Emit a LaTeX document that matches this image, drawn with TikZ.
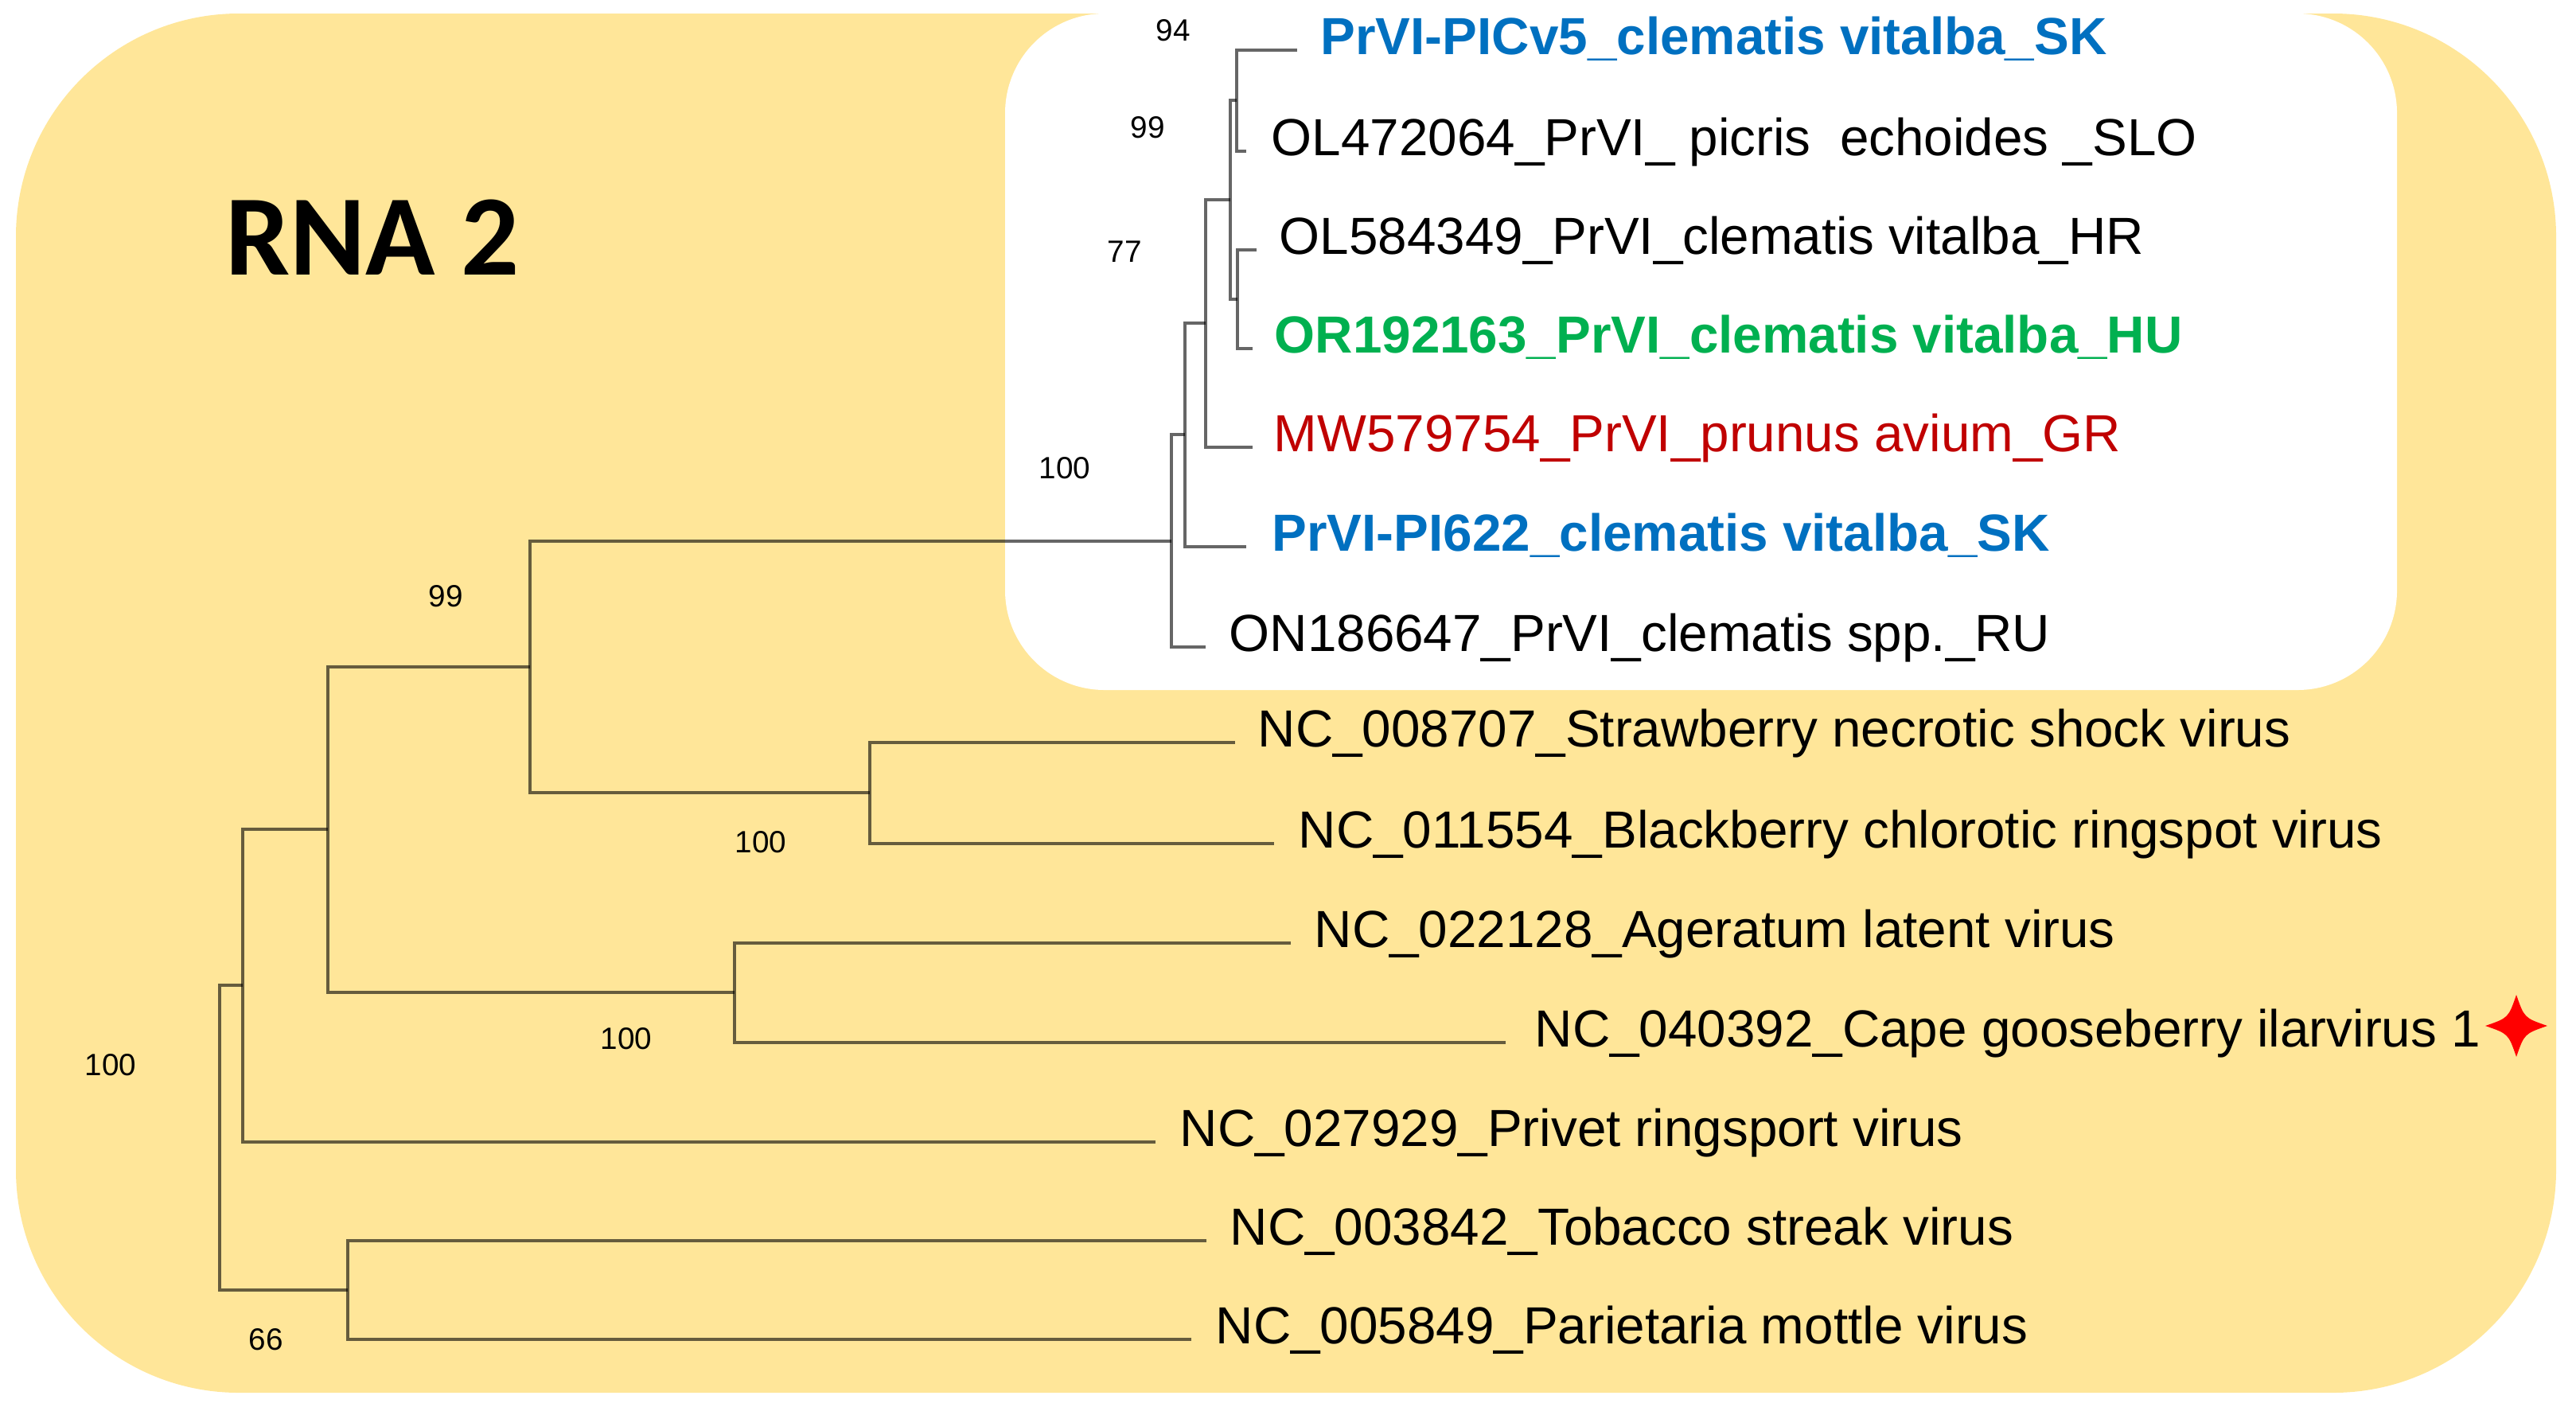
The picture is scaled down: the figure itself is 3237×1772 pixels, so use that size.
\documentclass[tikz,border=0pt]{standalone}
\usepackage{fontspec}
\setmainfont{Liberation Sans}
\newfontfamily\titlefont{Carlito}
\definecolor{rnaback}{HTML}{FFE699}
\definecolor{skblue}{HTML}{0070C0}
\definecolor{hugreen}{HTML}{00B050}
\definecolor{grred}{HTML}{C00000}

\begin{document}
\begin{tikzpicture}[x=0.01cm, y=-0.01cm,
    branch/.style={draw=black, draw opacity=0.6, line width=1.1pt},
    taxon/.style={anchor=base west, inner sep=0pt, font=\fontsize{18.65}{22}\selectfont},
    ourtaxon/.style={taxon, font=\fontsize{18.65}{22}\selectfont\bfseries},
    boot/.style={inner sep=0pt, font=\fontsize{11}{13}\selectfont}]
  \useasboundingbox (0,0) rectangle (3237,1772);
  \fill[rnaback, rounded corners=2.8cm] (20,17) rectangle (3212,1750);
  \fill[white, rounded corners=1.25cm] (1263,17) rectangle (3012,867);
  \node[anchor=base west, inner sep=0pt, font=\titlefont\bfseries\fontsize{41}{48}\selectfont] (title) at (283,345) {RNA 2};

  % inner nodes of the tree
  \coordinate (i1) at (1554,126);
  \coordinate (i2) at (1555,376);
  \coordinate (i3) at (1546,251);
  \coordinate (i4) at (1515,406);
  \coordinate (i5) at (1489,546);
  \coordinate (i6) at (1472,680);
  \coordinate (i7) at (1093,996);
  \coordinate (i8) at (666,838);
  \coordinate (i9) at (923,1247);
  \coordinate (i10) at (412,1042);
  \coordinate (i11) at (305,1238);
  \coordinate (i12) at (437,1621);
  \coordinate (i13) at (276,1430);

  % tips
  \coordinate (t1) at (1630,63);
  \coordinate (t2) at (1566,190);
  \coordinate (t3) at (1579,314);
  \coordinate (t4) at (1574,438);
  \coordinate (t5) at (1574,562);
  \coordinate (t6) at (1566,687);
  \coordinate (t7) at (1515,813);
  \coordinate (t8) at (1552,933);
  \coordinate (t9) at (1601,1060);
  \coordinate (t10) at (1622,1185);
  \coordinate (t11) at (1892,1310);
  \coordinate (t12) at (1452,1435);
  \coordinate (t13) at (1516,1559);
  \coordinate (t14) at (1497,1683);

  \draw[branch] (i13) |- (i11);
  \draw[branch] (i13) |- (i12);
  \draw[branch] (i11) |- (i10);
  \draw[branch] (i11) |- (t12);
  \draw[branch] (i10) |- (i8);
  \draw[branch] (i10) |- (i9);
  \draw[branch] (i8) |- (i6);
  \draw[branch] (i8) |- (i7);
  \draw[branch] (i6) |- (i5);
  \draw[branch] (i6) |- (t7);
  \draw[branch] (i5) |- (i4);
  \draw[branch] (i5) |- (t6);
  \draw[branch] (i4) |- (i3);
  \draw[branch] (i4) |- (t5);
  \draw[branch] (i3) |- (i1);
  \draw[branch] (i3) |- (i2);
  \draw[branch] (i1) |- (t1);
  \draw[branch] (i1) |- (t2);
  \draw[branch] (i2) |- (t3);
  \draw[branch] (i2) |- (t4);
  \draw[branch] (i7) |- (t8);
  \draw[branch] (i7) |- (t9);
  \draw[branch] (i9) |- (t10);
  \draw[branch] (i9) |- (t11);
  \draw[branch] (i12) |- (t13);
  \draw[branch] (i12) |- (t14);

  \node[ourtaxon, skblue] (picv5) at (1659,68) {PrVI-PICv5\_clematis vitalba\_SK};
  \node[taxon] (ol472064) at (1597,195) {OL472064\_PrVI\_ picris\ \ echoides \_SLO};
  \node[taxon] (ol584349) at (1607,319) {OL584349\_PrVI\_clematis vitalba\_HR};
  \node[ourtaxon, hugreen] (or192163) at (1601,443) {OR192163\_PrVI\_clematis vitalba\_HU};
  \node[taxon, grred] (mw579754) at (1600,567) {MW579754\_PrVI\_prunus avium\_GR};
  \node[ourtaxon, skblue] (pi622) at (1598,692) {PrVI-PI622\_clematis vitalba\_SK};
  \node[taxon] (on186647) at (1544,818) {ON186647\_PrVI\_clematis spp.\_RU};
  \node[taxon] (nc008707) at (1580,938) {NC\_008707\_Strawberry necrotic shock virus};
  \node[taxon] (nc011554) at (1631,1065) {NC\_011554\_Blackberry chlorotic ringspot virus};
  \node[taxon] (nc022128) at (1651,1190) {NC\_022128\_Ageratum latent virus};
  \node[taxon] (nc040392) at (1928,1315) {NC\_040392\_Cape gooseberry ilarvirus 1};
  \node[taxon] (nc027929) at (1482,1440) {NC\_027929\_Privet ringsport virus};
  \node[taxon] (nc003842) at (1545,1564) {NC\_003842\_Tobacco streak virus};
  \node[taxon] (nc005849) at (1527,1688) {NC\_005849\_Parietaria mottle virus};

  \fill[red] (3162,1250) .. controls (3172,1279) .. (3201,1289) .. controls (3172,1299) .. (3162,1328)
    .. controls (3152,1299) .. (3123,1289) .. controls (3152,1279) .. (3162,1250) -- cycle;

  \node[boot] (s94) at (1474,38) {94};
  \node[boot] (s99a) at (1442,160) {99};
  \node[boot] (s77) at (1413,316) {77};
  \node[boot] (s100a) at (1338,588) {100};
  \node[boot] (s99b) at (560,749) {99};
  \node[boot] (s100b) at (956,1058) {100};
  \node[boot] (s100c) at (787,1305) {100};
  \node[boot] (s100d) at (139,1338) {100};
  \node[boot] (s66) at (334,1683) {66};
\end{tikzpicture}
\end{document}
